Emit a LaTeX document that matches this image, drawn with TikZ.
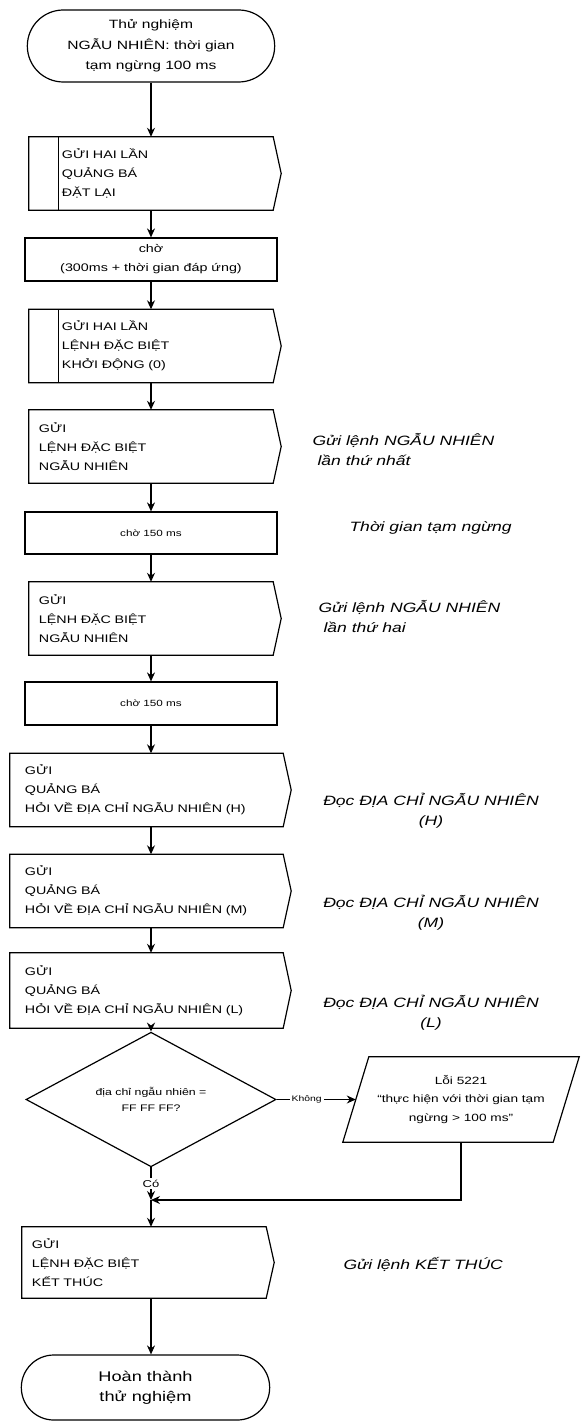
\documentclass[tikz,border=0pt]{standalone}
\usepackage{fontspec}
\setmainfont{Liberation Sans}[FakeStretch=1.3]
\usetikzlibrary{arrows.meta}
\usetikzlibrary{shapes.misc, shapes.geometric}

\tikzset{
  edgeline/.style={line width=1.2bp},
  arr/.style={-{Stealth[length=9bp,width=8bp]}, line width=1.2bp},
  term/.style={draw, edgeline, rounded rectangle, minimum width=254bp, align=center, font=\fontsize{12bp}{20.5bp}\selectfont},
  sendbox/.style={rectangle, minimum height=73bp, inner xsep=10bp, text width=224bp, align=left, font=\fontsize{11bp}{19bp}\selectfont},
  widebox/.style={sendbox, inner xsep=15bp, text width=243bp},
  barbox/.style={sendbox, inner xsep=33bp, text width=178bp},
  waitbox/.style={draw, edgeline, rectangle, minimum width=252bp, minimum height=43bp, align=center, font=\fontsize{11bp}{19bp}\selectfont},
  decision/.style={draw, edgeline, diamond, minimum width=250bp, minimum height=85bp, inner sep=0pt, align=center, font=\fontsize{9.5bp}{15.5bp}\selectfont},
  iobox/.style={rectangle, minimum width=210bp, minimum height=85bp, align=center, font=\fontsize{10.5bp}{18.5bp}\selectfont},
  note/.style={anchor=west, align=left, font=\fontsize{13.5bp}{20bp}\selectfont\itshape},
  tag/.style={fill=white, inner sep=2bp, font=\fontsize{8bp}{10bp}\selectfont}
}

\begin{document}
\begin{tikzpicture}[x=1bp, y=-1bp]
\useasboundingbox (0,0) rectangle (581,1423);
\coordinate (spine) at (151,0);
\node[term, minimum height=72bp] (start) at (151,46) {Thử nghiệm\\NGẪU NHIÊN: thời gian\\tạm ngừng 100 ms};
\node[barbox] (b1) at (151,173.5) {GỬI HAI LẦN\\QUẢNG BÁ\\ĐẶT LẠI};
\node[waitbox] (b2) at (151,259.5) {chờ\\(300ms + thời gian đáp ứng)};
\node[barbox] (b3) at (151,346) {GỬI HAI LẦN\\LỆNH ĐẶC BIỆT\\KHỞI ĐỘNG (0)};
\node[sendbox] (b4) at (151,446.5) {GỬI\\LỆNH ĐẶC BIỆT\\NGẪU NHIÊN};
\node[waitbox, minimum height=42bp, font=\fontsize{9bp}{12bp}\selectfont] (b5) at (151,533) {chờ 150 ms};
\node[sendbox] (b6) at (151,618.5) {GỬI\\LỆNH ĐẶC BIỆT\\NGẪU NHIÊN};
\node[waitbox, font=\fontsize{9bp}{12bp}\selectfont] (b7) at (151,703.5) {chờ 150 ms};
\node[widebox] (b8) at (146.5,790) {GỬI\\QUẢNG BÁ\\HỎI VỀ ĐỊA CHỈ NGẪU NHIÊN (H)};
\node[widebox] (b9) at (146.5,891) {GỬI\\QUẢNG BÁ\\HỎI VỀ ĐỊA CHỈ NGẪU NHIÊN (M)};
\node[widebox, minimum height=75bp] (b10) at (146.5,990.5) {GỬI\\QUẢNG BÁ\\HỎI VỀ ĐỊA CHỈ NGẪU NHIÊN (L)};
\node[decision] (d) at (151,1099.5) {địa chỉ ngẫu nhiên =\\FF FF FF?};
\node[iobox] (err) at (461,1099.5) {Lỗi 5221\\“thực hiện với thời gian tạm\\ngừng > 100 ms”};
\coordinate (m) at (151,1200);
\node[sendbox, minimum height=71bp] (b11) at (144,1262.5) {GỬI\\LỆNH ĐẶC BIỆT\\KẾT THÚC};
\node[term, minimum width=255bp, minimum height=65bp, font=\fontsize{14bp}{20bp}\selectfont] (finish) at (145.5,1387.5) {Hoàn thành\\thử nghiệm};

\foreach \n in {b1,b3,b4,b6,b8,b9,b10,b11} {
  \draw[edgeline] (\n.north west) -- (\n.north east) -- ([xshift=8bp]\n.east) -- (\n.south east) -- (\n.south west) -- cycle;
}
\foreach \n in {b1,b3} {
  \draw[edgeline] ([xshift=30bp]\n.north west) -- ([xshift=30bp]\n.south west);
}
\draw[edgeline] ([xshift=13bp]err.north west) -- ([xshift=13bp]err.north east) -- ([xshift=-13bp]err.south east) -- ([xshift=-13bp]err.south west) -- cycle;

\foreach \a/\b in {start/b1, b1/b2, b2/b3, b3/b4, b4/b5, b5/b6, b6/b7, b7/b8, b8/b9, b9/b10, b10/d} {
  \draw[arr] (spine |- \a.south) -- (spine |- \b.north);
}
\draw[arr] (d) -- (err) node[pos=0.38, tag] {Không};
\draw[arr] (d) -- (m) node[midway, tag, font=\fontsize{10bp}{12bp}\selectfont] {Có};
\draw[arr] (err) |- (m);
\draw[arr] (m) -- (spine |- b11.north);
\draw[arr] (spine |- b11.south) -- (spine |- finish.north);

\node[note] (n1) at (309,450) {Gửi lệnh NGẪU NHIÊN\\\hspace{5bp}lần thứ nhất};
\node[note] (n2) at (346,528) {Thời gian tạm ngừng};
\node[note] (n3) at (315,617) {Gửi lệnh NGẪU NHIÊN\\\hspace{5bp}lần thứ hai};
\node[note, anchor=center, align=center] (n4) at (431,811) {Đọc ĐỊA CHỈ NGẪU NHIÊN\\(H)};
\node[note, anchor=center, align=center] (n5) at (431,913) {Đọc ĐỊA CHỈ NGẪU NHIÊN\\(M)};
\node[note, anchor=center, align=center] (n6) at (431,1013) {Đọc ĐỊA CHỈ NGẪU NHIÊN\\(L)};
\node[note] (n7) at (340,1264) {Gửi lệnh KẾT THÚC};
\end{tikzpicture}
\end{document}
